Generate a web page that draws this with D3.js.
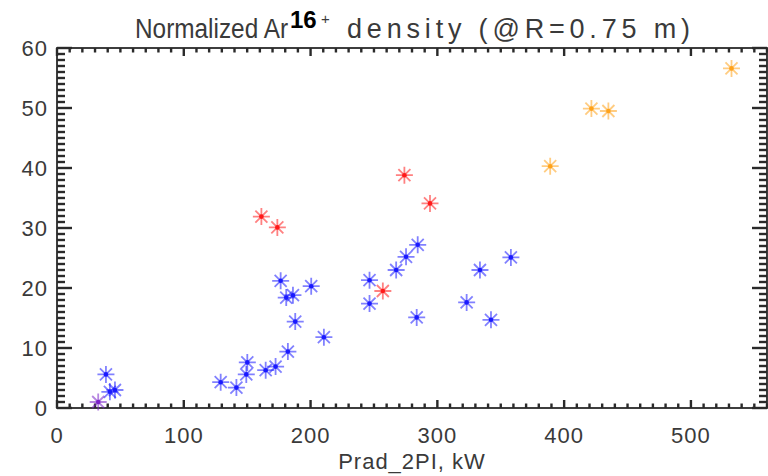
<!DOCTYPE html>
<html>
<head>
<meta charset="utf-8">
<script src="https://cdn.jsdelivr.net/npm/d3@7"></script>
<style>
  body { margin: 0; background: #fff; }
  text { font-family: "Liberation Sans", Arial, sans-serif; }
</style>
</head>
<body>
<div id="chart"></div>
<script>
// Prad_2PI (kW) vs normalized Ar16+ density, per group
const blueX = [38.6, 41.7, 45.7, 129.1, 141.5, 149.3, 150.1, 164.6, 172.4, 176.4, 180.8, 182.1, 186.1,
               187.9, 200.5, 210.5, 246.5, 246.5, 267.5, 275.3, 283.7, 284.5, 323.1, 333.6, 342.3, 358];
const blueY = [5.6, 2.7, 3.0, 4.3, 3.4, 5.6, 7.6, 6.3, 6.9, 21.2, 18.4, 9.4, 18.8,
               14.4, 20.3, 11.8, 21.3, 17.4, 23.0, 25.2, 15.1, 27.2, 17.6, 23.0, 14.7, 25.1];
const redX = [161.2, 173.8, 257, 274, 294.2];
const redY = [31.9, 30.1, 19.5, 38.8, 34.1];
const orangeX = [389, 421.5, 434.9, 532];
const orangeY = [40.3, 49.9, 49.5, 56.6];
const purpleX = [32.5];
const purpleY = [1.0];

const xTicks = [0, 100, 200, 300, 400, 500];
const yTicks = [0, 10, 20, 30, 40, 50, 60];

const W = 768, H = 476;
const margin = { top: 48, right: 1, bottom: 68, left: 57 };
const width = W - margin.left - margin.right,
      height = H - margin.top - margin.bottom;

const svg = d3.select("#chart")
    .append("svg")
    .attr("width", W)
    .attr("height", H);

const g = svg.append("g")
    .attr("transform", `translate(${margin.left},${margin.top})`);

const x = d3.scaleLinear().domain([0, 560]).range([0, width]);
const y = d3.scaleLinear().domain([0, 60]).range([height, 0]);

const axisColor = "#2a2a2a";

// frame
g.append("rect")
    .attr("x", 0).attr("y", 0)
    .attr("width", width).attr("height", height)
    .attr("fill", "none")
    .attr("stroke", axisColor)
    .attr("stroke-width", 1.8);

// tick marks, pointing inward on all four sides
const xMinor = d3.range(0, 561, 10);
const yMinor = d3.range(0, 61, 1);
const xLen = d => xTicks.includes(d) ? 8 : 4.5;
const yLen = d => yTicks.includes(d) ? 15 : 8;
const tw = 2.4;

const tg = g.append("g").attr("fill", axisColor);
tg.selectAll("rect.xb")
    .data(xMinor)
    .join("rect")
    .attr("class", "xb")
    .attr("x", d => x(d) - tw / 2)
    .attr("y", d => height - xLen(d))
    .attr("width", tw)
    .attr("height", d => xLen(d));
tg.selectAll("rect.xt")
    .data(xMinor)
    .join("rect")
    .attr("class", "xt")
    .attr("x", d => x(d) - tw / 2)
    .attr("y", 0)
    .attr("width", tw)
    .attr("height", d => xLen(d));
tg.selectAll("rect.yl")
    .data(yMinor)
    .join("rect")
    .attr("class", "yl")
    .attr("x", 0)
    .attr("y", d => y(d) - tw / 2)
    .attr("width", d => yLen(d))
    .attr("height", tw);
tg.selectAll("rect.yr")
    .data(yMinor)
    .join("rect")
    .attr("class", "yr")
    .attr("x", d => width - yLen(d))
    .attr("y", d => y(d) - tw / 2)
    .attr("width", d => yLen(d))
    .attr("height", tw);

// tick labels
g.selectAll(".xlab")
    .data(xTicks)
    .join("text")
    .attr("class", "xlab")
    .attr("x", d => x(d))
    .attr("y", height + 35)
    .attr("text-anchor", "middle")
    .attr("fill", "#3a3a3a")
    .style("font-size", "22px")
    .style("letter-spacing", "1px")
    .text(d => d);
g.selectAll(".ylab")
    .data(yTicks)
    .join("text")
    .attr("class", "ylab")
    .attr("x", -9)
    .attr("y", d => y(d))
    .attr("dy", "0.35em")
    .attr("text-anchor", "end")
    .attr("fill", "#3a3a3a")
    .style("font-size", "22px")
    .style("letter-spacing", "1px")
    .text(d => d);

// asterisk markers
const r = 8.5;
const star = d3.range(4).map(function (i) {
    const a = i * Math.PI / 4;
    const dx = r * Math.cos(a), dy = r * Math.sin(a);
    return `M${-dx},${-dy}L${dx},${dy}`;
}).join("");

const groups = [
    { xs: blueX, ys: blueY, color: "#1a1aff" },
    { xs: redX, ys: redY, color: "#ff1a1a" },
    { xs: orangeX, ys: orangeY, color: "#ffa21a" },
    { xs: purpleX, ys: purpleY, color: "#7a22c8" }
];

groups.forEach(function (grp) {
    const pts = grp.xs.map(function (v, i) { return [v, grp.ys[i]]; });
    const m = g.append("g")
        .selectAll("g")
        .data(pts)
        .join("g")
        .attr("transform", d => `translate(${x(d[0])},${y(d[1])})`);
    m.append("path")
        .attr("d", star)
        .attr("stroke", grp.color)
        .attr("stroke-opacity", 0.55)
        .attr("stroke-width", 1.8)
        .attr("fill", "none");
    m.append("circle")
        .attr("r", 2.3)
        .attr("fill", grp.color);
});

// title
const title = svg.append("g");
title.append("text")
    .attr("x", 135).attr("y", 38)
    .attr("textLength", 153).attr("lengthAdjust", "spacingAndGlyphs")
    .attr("fill", "#3a3a3a")
    .style("font-size", "27px")
    .text("Normalized Ar");
title.append("text")
    .attr("x", 290).attr("y", 28)
    .attr("fill", "#000")
    .style("font-size", "24px")
    .style("font-weight", "bold")
    .text("16");
title.append("text")
    .attr("x", 321).attr("y", 24)
    .attr("fill", "#3a3a3a")
    .style("font-size", "15px")
    .text("+");
title.append("text")
    .attr("x", 347).attr("y", 38)
    .attr("textLength", 343).attr("lengthAdjust", "spacing")
    .attr("fill", "#3a3a3a")
    .style("font-size", "27px")
    .text("density (@R=0.75 m)");

// x axis title
svg.append("text")
    .attr("x", margin.left + width / 2)
    .attr("y", 469)
    .attr("text-anchor", "middle")
    .attr("fill", "#3a3a3a")
    .style("font-size", "22px")
    .style("letter-spacing", "1px")
    .text("Prad_2PI, kW");
</script>
</body>
</html>
